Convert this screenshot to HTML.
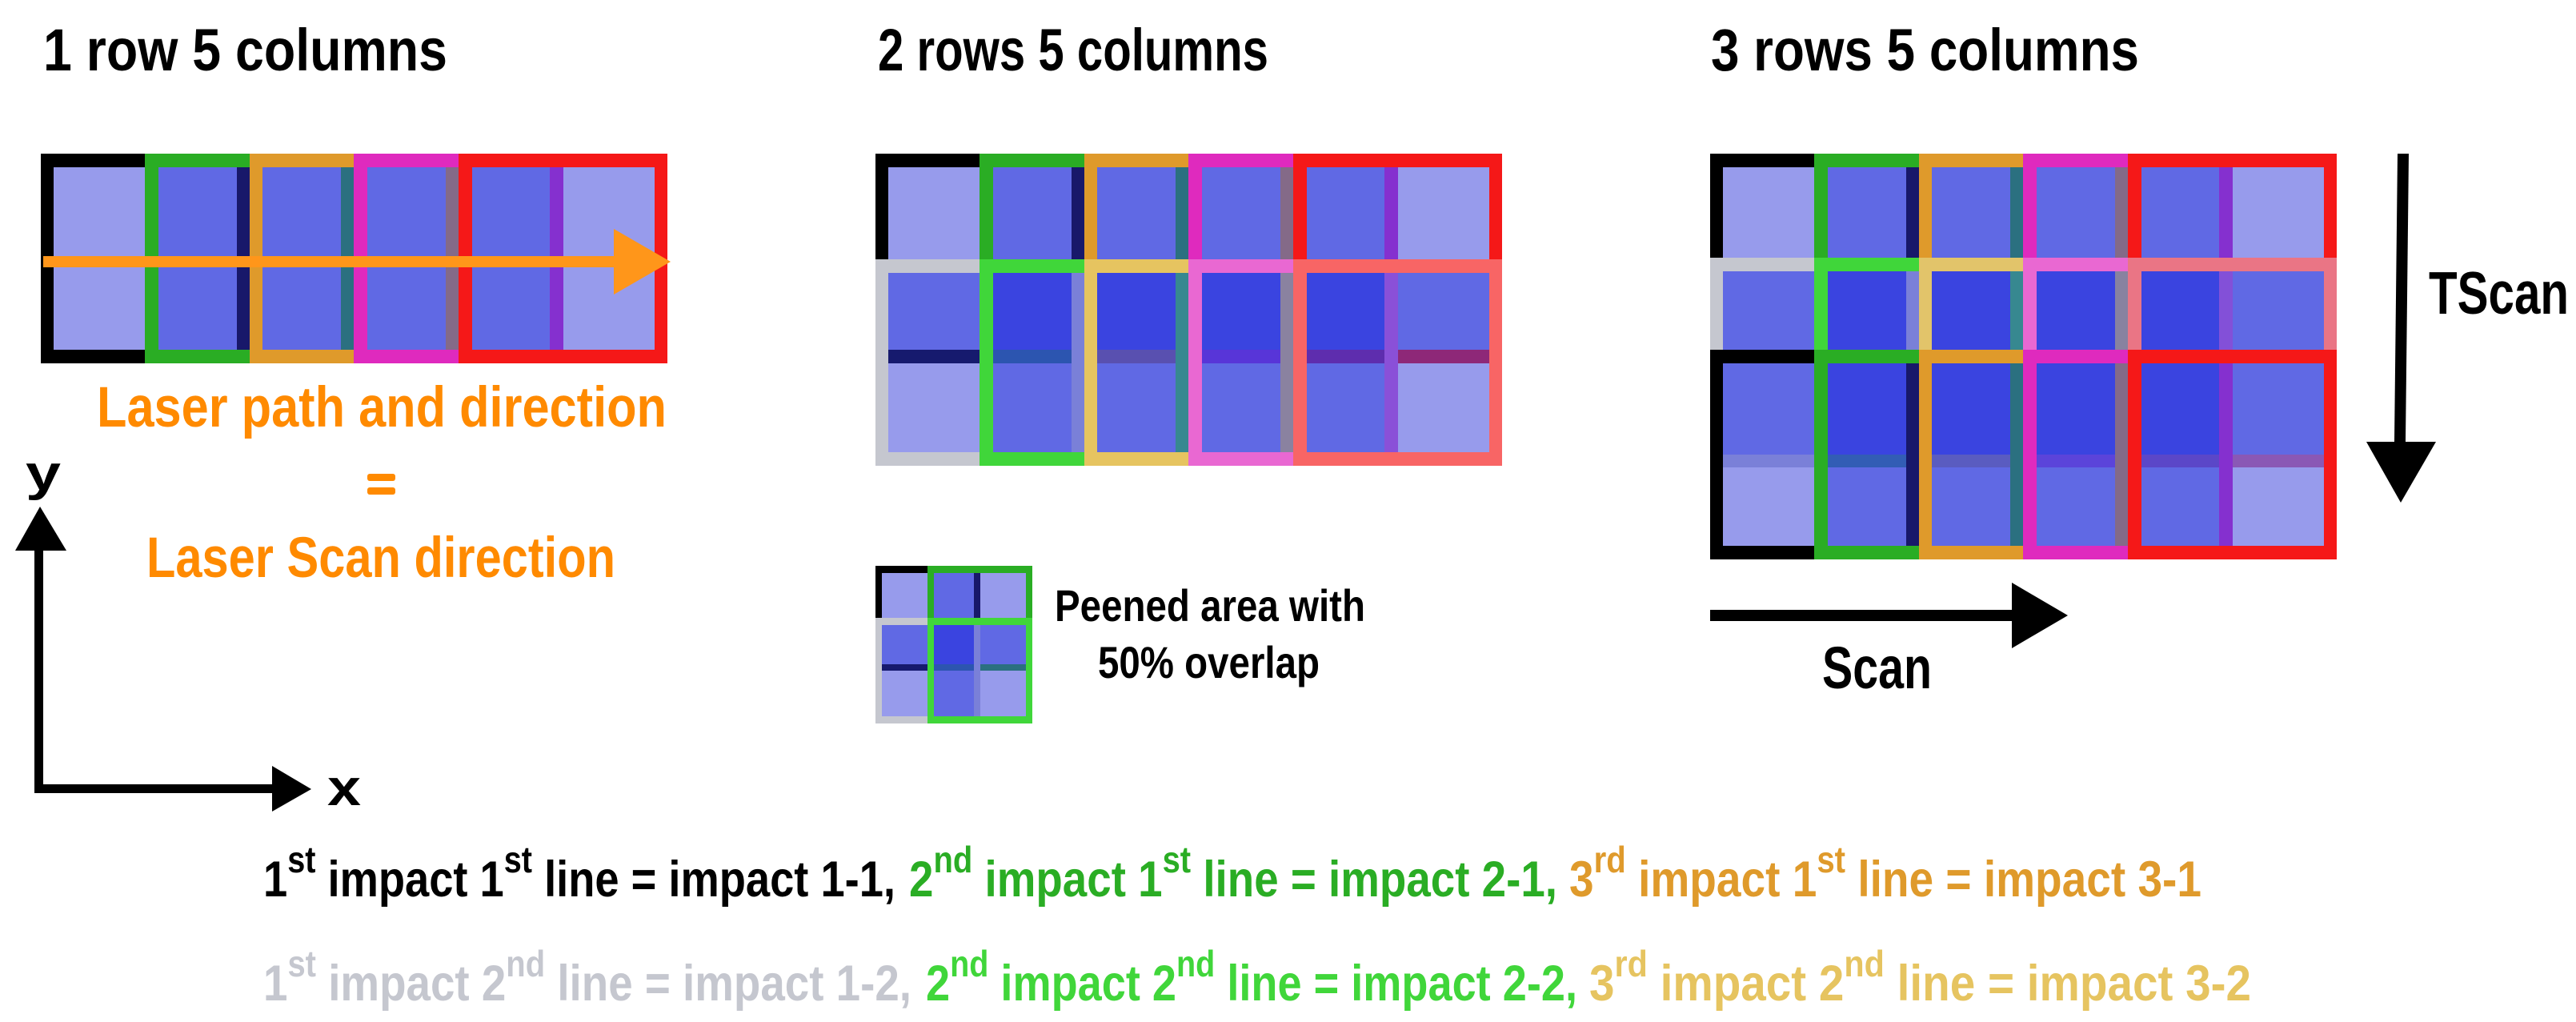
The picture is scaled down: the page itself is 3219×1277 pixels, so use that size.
<!DOCTYPE html>
<html><head><meta charset="utf-8"><style>html,body{margin:0;padding:0;background:#fff}svg{display:block}</style></head><body>
<svg width="3219" height="1277" viewBox="0 0 3219 1277" xmlns="http://www.w3.org/2000/svg" font-family="Liberation Sans, sans-serif" font-weight="bold">
<defs>
<g id="barD"><rect x="0" y="0" width="130" height="17" fill="#000"/><rect x="130" y="0" width="131" height="17" fill="#2AAD24"/><rect x="261" y="0" width="130" height="17" fill="#DF9A2B"/><rect x="391" y="0" width="131" height="17" fill="#DF2ABE"/><rect x="522" y="0" width="261" height="17" fill="#F51818"/></g>
<g id="barL2"><rect x="0" y="0" width="130" height="17" fill="#C5C7CF"/><rect x="130" y="0" width="131" height="17" fill="#40D63A"/><rect x="261" y="0" width="130" height="17" fill="#E6C460"/><rect x="391" y="0" width="131" height="17" fill="#E968D2"/><rect x="522" y="0" width="261" height="17" fill="#F86565"/></g>
<g id="barL3"><rect x="0" y="0" width="130" height="17" fill="#C5C7CF"/><rect x="130" y="0" width="131" height="17" fill="#40D63A"/><rect x="261" y="0" width="130" height="17" fill="#E2C46A"/><rect x="391" y="0" width="131" height="17" fill="#E968D2"/><rect x="522" y="0" width="261" height="17" fill="#EA7585"/></g>
<g id="vD"><rect x="0" width="16" height="1" fill="#000"/><rect x="130" width="17" height="1" fill="#2AAD24"/><rect x="245" width="16" height="1" fill="#18186A"/><rect x="261" width="16" height="1" fill="#DF9A2B"/><rect x="375" width="16" height="1" fill="#2B7080"/><rect x="391" width="17" height="1" fill="#DF2ABE"/><rect x="506" width="16" height="1" fill="#846A88"/><rect x="522" width="17" height="1" fill="#F51818"/><rect x="636" width="17" height="1" fill="#8530CF"/><rect x="767" width="16" height="1" fill="#F51818"/></g>
<g id="vL2"><rect x="0" width="16" height="1" fill="#C5C7CF"/><rect x="130" width="17" height="1" fill="#40D63A"/><rect x="245" width="16" height="1" fill="#7A80D8"/><rect x="261" width="16" height="1" fill="#E6C460"/><rect x="375" width="16" height="1" fill="#378890"/><rect x="391" width="17" height="1" fill="#E968D2"/><rect x="506" width="16" height="1" fill="#8A82A0"/><rect x="522" width="17" height="1" fill="#F86565"/><rect x="636" width="17" height="1" fill="#8A50D8"/><rect x="767" width="16" height="1" fill="#F86565"/></g>
<g id="vL3"><rect x="0" width="16" height="1" fill="#C5C7CF"/><rect x="130" width="17" height="1" fill="#40D63A"/><rect x="245" width="16" height="1" fill="#7A80D8"/><rect x="261" width="16" height="1" fill="#E2C46A"/><rect x="375" width="16" height="1" fill="#378890"/><rect x="391" width="17" height="1" fill="#E968D2"/><rect x="506" width="16" height="1" fill="#8882A0"/><rect x="522" width="17" height="1" fill="#EA7585"/><rect x="636" width="17" height="1" fill="#8350D8"/><rect x="767" width="16" height="1" fill="#EA7585"/></g>
<g id="fLM"><rect x="16" width="114" height="1" fill="#979BEC"/><rect x="147" width="98" height="1" fill="#6069E4"/><rect x="277" width="98" height="1" fill="#6069E4"/><rect x="408" width="98" height="1" fill="#6069E4"/><rect x="539" width="97" height="1" fill="#6069E4"/><rect x="653" width="114" height="1" fill="#979BEC"/></g>
<g id="fMD"><rect x="16" width="114" height="1" fill="#6069E4"/><rect x="147" width="98" height="1" fill="#3A44E0"/><rect x="277" width="98" height="1" fill="#3A44E0"/><rect x="408" width="98" height="1" fill="#3A44E0"/><rect x="539" width="97" height="1" fill="#3A44E0"/><rect x="653" width="114" height="1" fill="#6069E4"/></g>
</defs>

<text x="54" y="88" font-size="74" textLength="505" lengthAdjust="spacingAndGlyphs">1 row  5 columns</text>
<text x="1097" y="88" font-size="74" textLength="488" lengthAdjust="spacingAndGlyphs">2 rows  5 columns</text>
<text x="2138" y="88" font-size="74" textLength="535" lengthAdjust="spacingAndGlyphs">3 rows  5 columns</text>

<g transform="translate(51,0)">
<use href="#barD" y="192"/>
<use href="#fLM" transform="translate(0,209) scale(1,228)"/>
<use href="#vD" transform="translate(0,209) scale(1,228)"/>
<use href="#barD" y="437"/>
</g>
<rect x="54" y="320" width="715" height="14" fill="#FF961A"/>
<polygon points="767,286 838,327 767,368" fill="#FF961A"/>

<g transform="translate(1094,0)">
<use href="#barD" y="192"/>
<use href="#fLM" transform="translate(0,209) scale(1,115)"/>
<use href="#vD" transform="translate(0,209) scale(1,115)"/>
<use href="#fMD" transform="translate(0,341) scale(1,96)"/>
<rect x="16" y="437" width="114" height="17" fill="#161A6E"/><rect x="147" y="437" width="98" height="17" fill="#2C55B0"/><rect x="277" y="437" width="98" height="17" fill="#5950B0"/><rect x="408" y="437" width="98" height="17" fill="#5835D8"/><rect x="539" y="437" width="97" height="17" fill="#5E2DAE"/><rect x="653" y="437" width="114" height="17" fill="#8E2878"/>
<use href="#fLM" transform="translate(0,454) scale(1,111)"/>
<use href="#vL2" transform="translate(0,341) scale(1,224)"/>
<use href="#barL2" y="324"/>
<use href="#barL2" y="565"/>
</g>

<g transform="translate(2137,0)">
<use href="#barD" y="192"/>
<use href="#fLM" transform="translate(0,209) scale(1,113)"/>
<use href="#vD" transform="translate(0,209) scale(1,113)"/>
<use href="#fMD" transform="translate(0,339) scale(1,98)"/>
<use href="#vL3" transform="translate(0,339) scale(1,98)"/>
<use href="#barL3" y="322"/>
<use href="#fMD" transform="translate(0,454) scale(1,114)"/>
<rect x="16" y="568" width="114" height="16" fill="#7A80D8"/><rect x="147" y="568" width="98" height="16" fill="#325DB5"/><rect x="277" y="568" width="98" height="16" fill="#5A5CC0"/><rect x="408" y="568" width="98" height="16" fill="#5B44DA"/><rect x="539" y="568" width="97" height="16" fill="#5B47C8"/><rect x="653" y="568" width="114" height="16" fill="#8A58B5"/>
<use href="#fLM" transform="translate(0,584) scale(1,98)"/>
<use href="#vD" transform="translate(0,454) scale(1,228)"/>
<use href="#barD" y="437"/>
<use href="#barD" y="682"/>
</g>

<polygon points="2996,192 3010,192 3006,552 2992,552" fill="#000"/>
<polygon points="2957,552 3044,552 3000,628" fill="#000"/>
<text x="3035" y="392" font-size="75" textLength="175" lengthAdjust="spacingAndGlyphs">TScan</text>

<rect x="2137" y="762" width="379" height="14" fill="#000"/>
<polygon points="2514,728 2584,769 2514,810" fill="#000"/>
<text x="2277" y="860" font-size="74" textLength="137" lengthAdjust="spacingAndGlyphs">Scan</text>

<g>
<rect x="1102" y="716" width="57" height="56" fill="#979BEC"/><rect x="1167" y="716" width="50" height="56" fill="#6069E4"/><rect x="1225" y="716" width="57" height="56" fill="#979BEC"/>
<rect x="1102" y="781" width="57" height="49" fill="#6069E4"/><rect x="1167" y="781" width="50" height="49" fill="#3A44E0"/><rect x="1225" y="781" width="57" height="49" fill="#6069E4"/>
<rect x="1102" y="830" width="57" height="8" fill="#161A6E"/><rect x="1167" y="830" width="50" height="8" fill="#2C55B0"/><rect x="1225" y="830" width="57" height="8" fill="#2B7080"/>
<rect x="1102" y="838" width="57" height="57" fill="#979BEC"/><rect x="1167" y="838" width="50" height="57" fill="#6069E4"/><rect x="1225" y="838" width="57" height="57" fill="#979BEC"/>
<rect x="1094" y="707" width="8" height="65" fill="#000"/><rect x="1159" y="707" width="8" height="65" fill="#2AAD24"/><rect x="1217" y="716" width="8" height="56" fill="#18186A"/><rect x="1282" y="707" width="8" height="65" fill="#2AAD24"/>
<rect x="1094" y="707" width="65" height="9" fill="#000"/><rect x="1159" y="707" width="131" height="9" fill="#2AAD24"/>
<rect x="1094" y="772" width="8" height="132" fill="#C5C7CF"/><rect x="1159" y="772" width="8" height="132" fill="#40D63A"/><rect x="1217" y="781" width="8" height="114" fill="#7A80D8"/><rect x="1282" y="772" width="8" height="132" fill="#40D63A"/>
<rect x="1094" y="772" width="65" height="9" fill="#C5C7CF"/><rect x="1159" y="772" width="131" height="9" fill="#40D63A"/>
<rect x="1094" y="895" width="65" height="9" fill="#C5C7CF"/><rect x="1159" y="895" width="131" height="9" fill="#40D63A"/>
</g>
<text x="1318" y="776" font-size="56" textLength="388" lengthAdjust="spacingAndGlyphs">Peened area with</text>
<text x="1372" y="847" font-size="56" textLength="277" lengthAdjust="spacingAndGlyphs">50% overlap</text>

<g fill="#FF8A00">
<text x="121" y="533" font-size="71" textLength="712" lengthAdjust="spacingAndGlyphs">Laser path and direction</text>
<rect x="459" y="592" width="35" height="9" rx="3"/><rect x="459" y="609" width="35" height="9" rx="3"/>
<text x="183" y="721" font-size="71" textLength="586" lengthAdjust="spacingAndGlyphs">Laser Scan direction</text>
</g>

<rect x="43" y="686" width="11" height="304" fill="#000"/>
<polygon points="19,688 83,688 50,633" fill="#000"/>
<rect x="43" y="980" width="300" height="11" fill="#000"/>
<polygon points="340,957 389,986 340,1014" fill="#000"/>
<text x="32" y="612" font-size="62" textLength="44" lengthAdjust="spacingAndGlyphs">y</text>
<text x="409" y="1006" font-size="64" textLength="42" lengthAdjust="spacingAndGlyphs">x</text>

<g font-size="63">
<text x="329" y="1120" fill="#000" textLength="790" lengthAdjust="spacingAndGlyphs">1<tspan font-size="46" dy="-30">st</tspan><tspan dy="30"> impact 1</tspan><tspan font-size="46" dy="-30">st</tspan><tspan dy="30"> line = impact 1-1,</tspan></text>
<text x="1136" y="1120" fill="#2AAD24" textLength="810" lengthAdjust="spacingAndGlyphs">2<tspan font-size="46" dy="-30">nd</tspan><tspan dy="30"> impact 1</tspan><tspan font-size="46" dy="-30">st</tspan><tspan dy="30"> line = impact 2-1,</tspan></text>
<text x="1961" y="1120" fill="#DF9A2B" textLength="790" lengthAdjust="spacingAndGlyphs">3<tspan font-size="46" dy="-30">rd</tspan><tspan dy="30"> impact 1</tspan><tspan font-size="46" dy="-30">st</tspan><tspan dy="30"> line = impact 3-1</tspan></text>
<text x="329" y="1250" fill="#C5C7CF" textLength="810" lengthAdjust="spacingAndGlyphs">1<tspan font-size="46" dy="-30">st</tspan><tspan dy="30"> impact 2</tspan><tspan font-size="46" dy="-30">nd</tspan><tspan dy="30"> line = impact 1-2,</tspan></text>
<text x="1157" y="1250" fill="#40D63A" textLength="814" lengthAdjust="spacingAndGlyphs">2<tspan font-size="46" dy="-30">nd</tspan><tspan dy="30"> impact 2</tspan><tspan font-size="46" dy="-30">nd</tspan><tspan dy="30"> line = impact 2-2,</tspan></text>
<text x="1986" y="1250" fill="#E6C460" textLength="827" lengthAdjust="spacingAndGlyphs">3<tspan font-size="46" dy="-30">rd</tspan><tspan dy="30"> impact 2</tspan><tspan font-size="46" dy="-30">nd</tspan><tspan dy="30"> line = impact 3-2</tspan></text>
</g>
</svg>
</body></html>
